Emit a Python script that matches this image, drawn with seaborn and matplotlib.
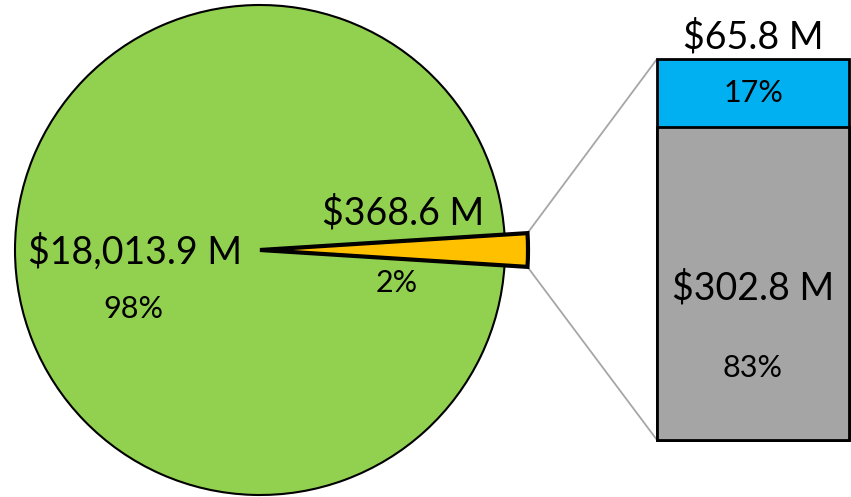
import matplotlib
matplotlib.use("Agg")
import matplotlib.pyplot as plt
import seaborn as sns
import numpy as np
from matplotlib.patches import ConnectionPatch

sns.set_theme(style="white")
plt.rcParams['font.family'] = ['Lato', 'DejaVu Sans']

# Data
pie_labels = ["Other", "Main"]
pie_values = [368.6, 18013.9]
pie_value_text = ["$368.6 M", "$18,013.9 M"]
pie_pct_text = ["2%", "98%"]
pie_colors = ["#FFC000", "#92D050"]

bar_categories = ["$302.8 M", "$65.8 M"]
bar_values = [302.8, 65.8]
bar_pct_text = ["83%", "17%"]
bar_colors = ["#A5A5A5", "#00B0F0"]

W, H = 851, 497
fig = plt.figure(figsize=(W / 100, H / 100), dpi=100)

# Pie axes in pixel coordinates
axp = fig.add_axes([0, 0, 1, 1])
axp.set_xlim(0, W)
axp.set_ylim(H, 0)
axp.set_aspect("equal")
axp.axis("off")

cx, cy, R = 260, 250, 245
frac = pie_values[0] / sum(pie_values)
start = -frac * 360 / 2
wedges, _ = axp.pie(pie_values, colors=pie_colors, center=(cx, cy), radius=R,
                    startangle=start, counterclock=True,
                    wedgeprops=dict(edgecolor="black", linewidth=1.5))
axp.set_xlim(0, W)
axp.set_ylim(H, 0)
R2 = 268
wedges[0].set_radius(R2)
wedges[0].set_linewidth(3)
wedges[0].set_zorder(3)

# Bar axes
axb = fig.add_axes([657 / W, (H - 440) / H, 192 / W, 381 / H])
total = sum(bar_values)
sns.barplot(x=["Other"], y=[total], color=bar_colors[1], width=1.0,
            edgecolor="black", linewidth=2, ax=axb, saturation=1)
sns.barplot(x=["Other"], y=[bar_values[0]], color=bar_colors[0], width=1.0,
            edgecolor="black", linewidth=2, ax=axb, saturation=1)
axb.set_xlim(-0.5, 0.5)
axb.set_ylim(0, total)
axb.axis("off")
for p in axb.patches:
    p.set_clip_on(False)

# Connector lines
th = np.deg2rad(frac * 360 / 2)
top_pt = (cx + R2 * np.cos(th), cy - R2 * np.sin(th))
bot_pt = (cx + R2 * np.cos(th), cy + R2 * np.sin(th))
for pt, by in [(top_pt, total), (bot_pt, 0)]:
    con = ConnectionPatch(xyA=pt, coordsA=axp.transData, xyB=(-0.5, by),
                          coordsB=axb.transData, color="#A6A6A6", lw=1.3, zorder=0)
    fig.add_artist(con)

BIG, SMALL = 27, 22

# Pie labels
axp.text(135, 252, pie_value_text[1], ha="center", va="center", fontsize=BIG, color="black")
axp.text(133, 309, pie_pct_text[1], ha="center", va="center", fontsize=SMALL, color="black")
axp.text(403, 213, pie_value_text[0], ha="center", va="center", fontsize=BIG, color="black", zorder=5)
axp.text(397, 283, pie_pct_text[0], ha="center", va="center", fontsize=SMALL, color="black", zorder=5)

# Bar labels
axb.text(0, total + 22 / 381 * total, bar_categories[1], ha="center", va="center", fontsize=BIG, color="black", clip_on=False)
axb.text(0, bar_values[0] + bar_values[1] / 2, bar_pct_text[1], ha="center", va="center", fontsize=SMALL, color="black")
axb.text(0, 147, bar_categories[0], ha="center", va="center", fontsize=BIG, color="black")
axb.text(0, 70, bar_pct_text[0], ha="center", va="center", fontsize=SMALL, color="black")

fig.savefig("out.png", dpi=100)
